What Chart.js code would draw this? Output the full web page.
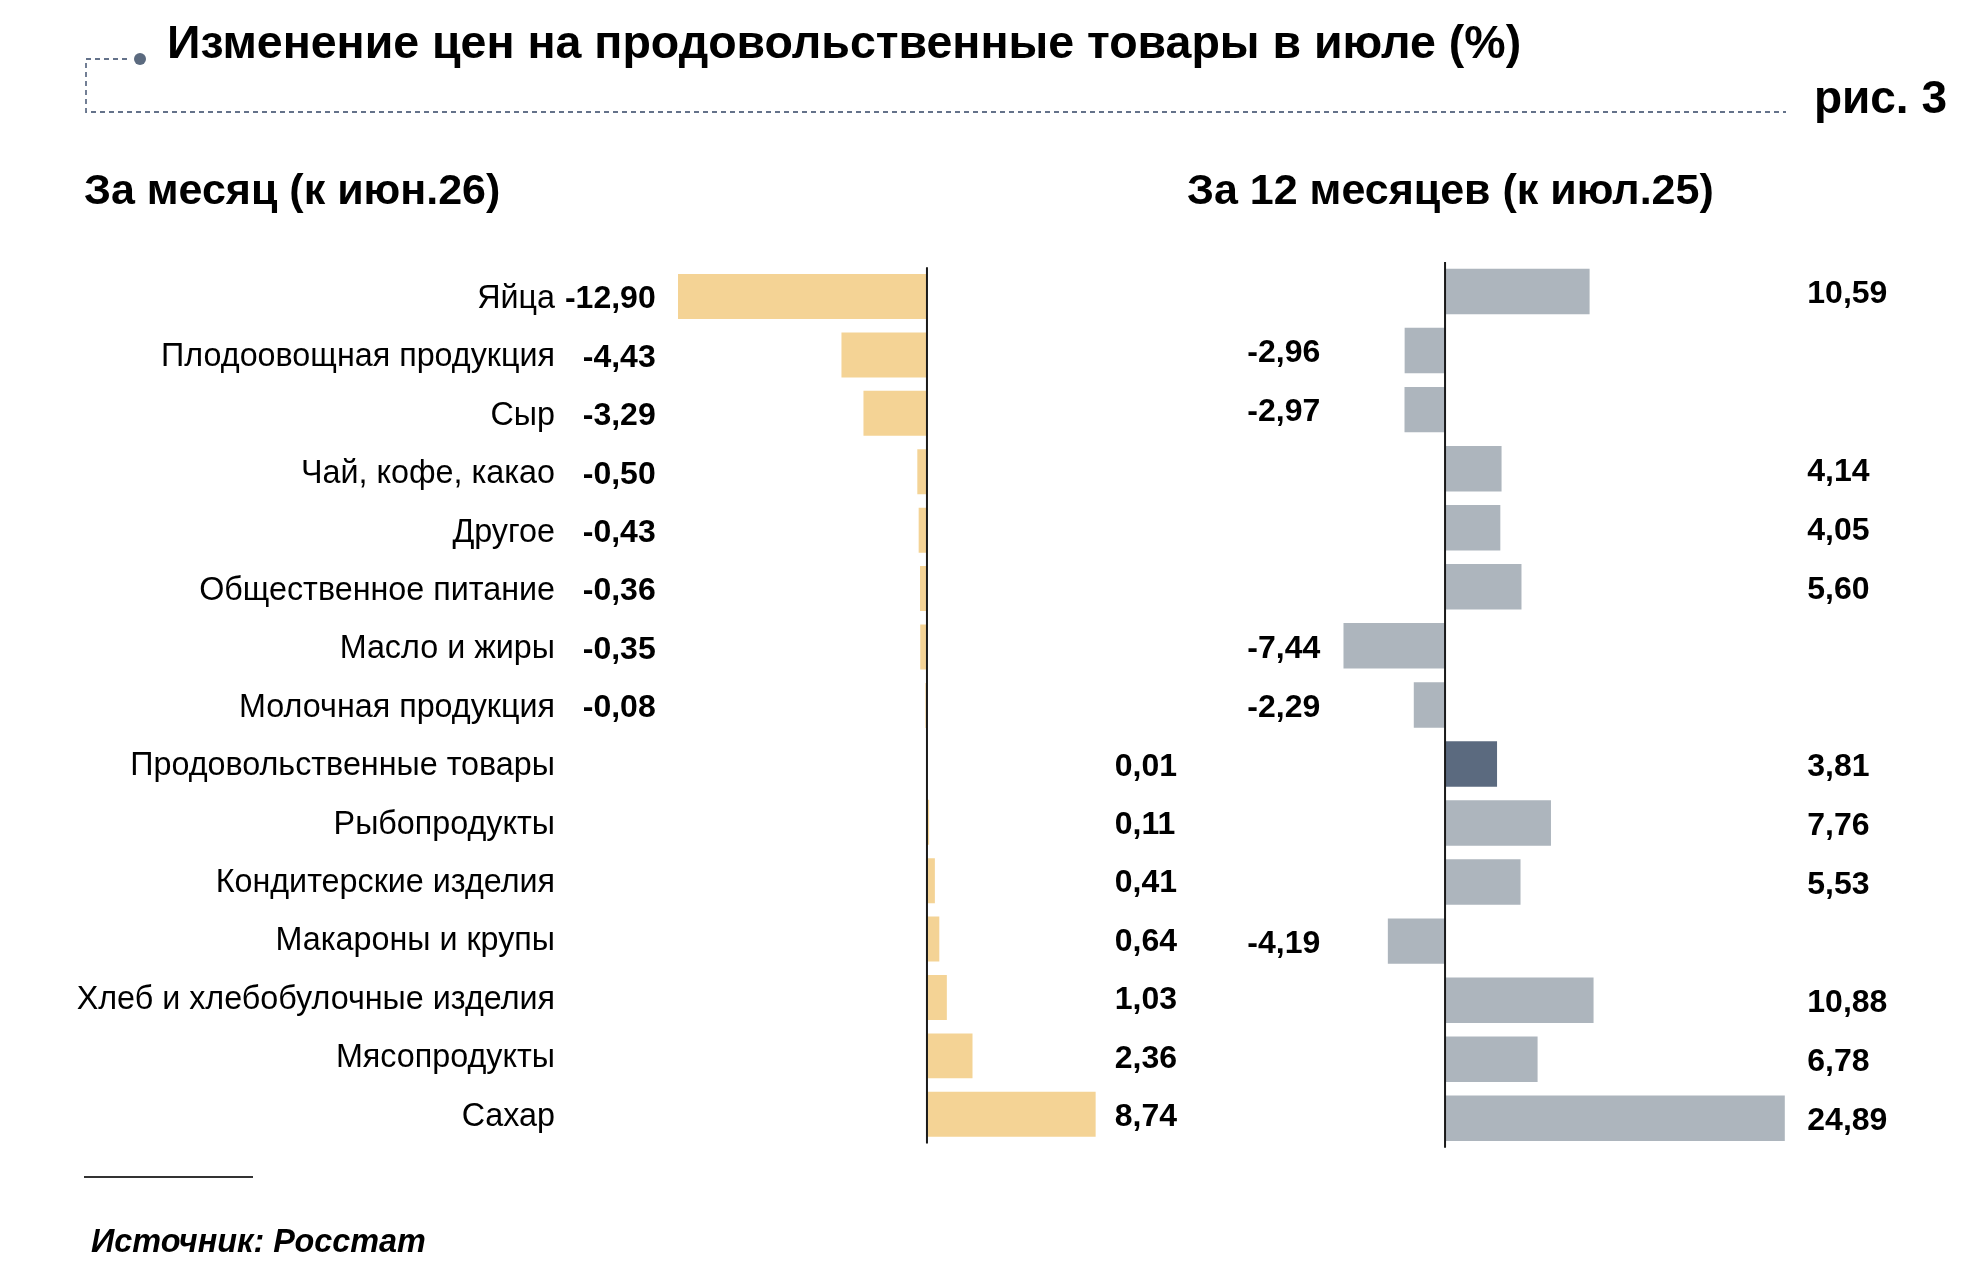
<!DOCTYPE html>
<html lang="ru">
<head>
<meta charset="utf-8">
<script src="https://cdn.jsdelivr.net/npm/chart.js@4.4.1/dist/chart.umd.min.js"></script>
<style>
  html, body { margin: 0; padding: 0; background: #fff; }
  body { width: 1986px; height: 1268px; position: relative; overflow: hidden;
         font-family: 'Liberation Sans', Arial, Helvetica, sans-serif; color: #000; }
  canvas { position: absolute; left: 0; top: 0; }
  .txt { position: absolute; white-space: nowrap; line-height: 1; font-weight: bold; }
  #title { left: 167px; top: 18.5px; font-size: 46.5px; }
  #fig { right: 39px; top: 74px; font-size: 46px; }
  #sub1 { left: 84px; top: 167.6px; font-size: 43px; }
  #sub2 { left: 1187px; top: 167.6px; font-size: 43px; }
  #src { left: 91px; top: 1225px; font-size: 32.4px; font-style: italic; }
  #rule { position: absolute; left: 84px; top: 1176px; width: 169px; height: 2px; background: #333; }
  svg { position: absolute; left: 0; top: 0; }
</style>
</head>
<body>
<canvas id="left" width="1986" height="1268"></canvas>
<canvas id="right" width="1986" height="1268"></canvas>
<svg width="1986" height="1268">
  <path d="M127 59 H86 V112 H1786" fill="none" stroke="#64728A" stroke-width="1.8" stroke-dasharray="5 4"/>
  <circle cx="140" cy="59" r="6" fill="#5B6A7F"/>
</svg>
<div class="txt" id="title">Изменение цен на продовольственные товары в июле (%)</div>
<div class="txt" id="fig">рис. 3</div>
<div class="txt" id="sub1">За месяц (к июн.26)</div>
<div class="txt" id="sub2">За 12 месяцев (к июл.25)</div>
<div id="rule"></div>
<div class="txt" id="src">Источник: Росстат</div>
<script>
const categories = ['Яйца', 'Плодоовощная продукция', 'Сыр', 'Чай, кофе, какао', 'Другое',
  'Общественное питание', 'Масло и жиры', 'Молочная продукция', 'Продовольственные товары',
  'Рыбопродукты', 'Кондитерские изделия', 'Макароны и крупы', 'Хлеб и хлебобулочные изделия',
  'Мясопродукты', 'Сахар'];
const monthValues = [-12.90, -4.43, -3.29, -0.50, -0.43, -0.36, -0.35, -0.08, 0.01, 0.11, 0.41, 0.64, 1.03, 2.36, 8.74];
const yearValues = [10.59, -2.96, -2.97, 4.14, 4.05, 5.60, -7.44, -2.29, 3.81, 7.76, 5.53, -4.19, 10.88, 6.78, 24.89];
const highlightCategory = 'Продовольственные товары';

const FONT = "'Liberation Sans', Arial, Helvetica, sans-serif";
Chart.defaults.font.family = FONT;
Chart.defaults.color = '#000';

const fmt = v => v.toFixed(2).replace('.', ',');

const zeroLine = {
  id: 'zeroLine',
  afterDatasetsDraw(chart) {
    const {ctx, chartArea, scales} = chart;
    const x = scales.x.getPixelForValue(0);
    ctx.save();
    ctx.strokeStyle = '#1a1a1a';
    ctx.lineWidth = 2;
    ctx.beginPath();
    ctx.moveTo(x, chartArea.top);
    ctx.lineTo(x, chartArea.bottom);
    ctx.stroke();
    ctx.restore();
  }
};

const valueLabels = {
  id: 'valueLabels',
  afterDatasetsDraw(chart, args, opts) {
    const {ctx, chartArea, scales} = chart;
    const data = chart.data.datasets[0].data;
    ctx.save();
    ctx.font = 'bold 32px ' + FONT;
    ctx.fillStyle = '#000';
    ctx.textBaseline = 'middle';
    data.forEach((v, i) => {
      const y = scales.y.getPixelForValue(i) + 3;
      if (v < 0) {
        ctx.textAlign = opts.negAlign;
        ctx.fillText(fmt(v), chartArea.left + opts.negOffset, y);
      } else {
        ctx.textAlign = opts.posAlign;
        ctx.fillText(fmt(v), chartArea.right + opts.posOffset, y);
      }
    });
    ctx.restore();
  }
};

// Left chart: month
new Chart(document.getElementById('left'), {
  type: 'bar',
  data: {
    labels: categories,
    datasets: [{
      data: monthValues,
      backgroundColor: '#F4D395',
      barPercentage: 0.77,
      categoryPercentage: 1
    }]
  },
  options: {
    indexAxis: 'y',
    responsive: false,
    animation: false,
    devicePixelRatio: 1,
    layout: { padding: { left: 0, top: 267.3, right: 889.2, bottom: 124.5 } },
    plugins: {
      legend: { display: false },
      tooltip: { enabled: false },
      valueLabels: { negAlign: 'right', negOffset: -3, posAlign: 'left', posOffset: 18 }
    },
    scales: {
      x: { display: false, min: -13.9, max: 8.8 },
      y: {
        grid: { display: false, drawTicks: false },
        border: { display: false },
        ticks: { font: { size: 32.3 }, color: '#000', padding: 103.7, labelOffset: 2.5 },
        afterFit(scale) { scale.width = 658.7; }
      }
    }
  },
  plugins: [zeroLine, valueLabels]
});

// Right chart: 12 months
new Chart(document.getElementById('right'), {
  type: 'bar',
  data: {
    labels: categories,
    datasets: [{
      data: yearValues,
      backgroundColor: categories.map(c => c === highlightCategory ? '#5B6A7F' : '#ADB5BD'),
      barPercentage: 0.77,
      categoryPercentage: 1
    }]
  },
  options: {
    indexAxis: 'y',
    responsive: false,
    animation: false,
    devicePixelRatio: 1,
    layout: { padding: { left: 1341.3, top: 262, right: 199.7, bottom: 120.2 } },
    plugins: {
      legend: { display: false },
      tooltip: { enabled: false },
      valueLabels: { negAlign: 'right', negOffset: -21, posAlign: 'left', posOffset: 21 }
    },
    scales: {
      x: { display: false, min: -7.6, max: 25 },
      y: { display: false }
    }
  },
  plugins: [zeroLine, valueLabels]
});
</script>
</body>
</html>
